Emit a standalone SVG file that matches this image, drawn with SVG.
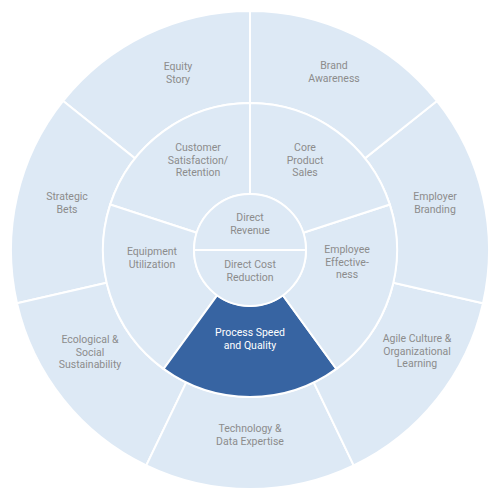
<svg xmlns="http://www.w3.org/2000/svg" width="500" height="500" viewBox="0 0 500 500">
<style>
.seg{fill:#dde9f5;stroke:#ffffff;stroke-width:2}
.hl{fill:#3764a2;stroke:#ffffff;stroke-width:2}
text{font-family:Roboto,"Liberation Sans",sans-serif;font-size:10.5px;fill:#8c8c8c;text-anchor:middle}
.w{fill:#ffffff}
</style>
<rect width="500" height="500" fill="#ffffff"/>
<g id="outer-ring">
<g id="equity-story"><path class="seg" d="M250 11A239 239 0 0 0 63.14 100.99L135.07 158.35A147 147 0 0 1 250 103Z"/><text x="178" y="70">Equity<tspan x="178" dy="12.5">Story</tspan></text></g>
<g id="strategic-bets"><path class="seg" d="M63.14 100.99A239 239 0 0 0 16.99 303.18L106.69 282.71A147 147 0 0 1 135.07 158.35Z"/><text x="67" y="200">Strategic<tspan x="67" dy="12.5">Bets</tspan></text></g>
<g id="ecological-social-sustainability"><path class="seg" d="M16.99 303.18A239 239 0 0 0 146.30 465.33L186.22 382.44A147 147 0 0 1 106.69 282.71Z"/><text x="90" y="343">Ecological &amp;<tspan x="90" dy="12.5">Social</tspan><tspan x="90" dy="12.5">Sustainability</tspan></text></g>
<g id="technology-data-expertise"><path class="seg" d="M146.30 465.33A239 239 0 0 0 353.70 465.33L313.78 382.44A147 147 0 0 1 186.22 382.44Z"/><text x="250" y="432">Technology &amp;<tspan x="250" dy="12.5">Data Expertise</tspan></text></g>
<g id="agile-culture"><path class="seg" d="M353.70 465.33A239 239 0 0 0 483.01 303.18L393.31 282.71A147 147 0 0 1 313.78 382.44Z"/><text x="417" y="342">Agile Culture &amp;<tspan x="417" dy="12.5">Organizational</tspan><tspan x="417" dy="12.5">Learning</tspan></text></g>
<g id="employer-branding"><path class="seg" d="M483.01 303.18A239 239 0 0 0 436.86 100.99L364.93 158.35A147 147 0 0 1 393.31 282.71Z"/><text x="435" y="200">Employer<tspan x="435" dy="12.5">Branding</tspan></text></g>
<g id="brand-awareness"><path class="seg" d="M436.86 100.99A239 239 0 0 0 250 11L250 103A147 147 0 0 1 364.93 158.35Z"/><text x="334" y="69">Brand<tspan x="334" dy="12.5">Awareness</tspan></text></g>
</g>
<g id="middle-ring">
<g id="customer-satisfaction"><path class="seg" d="M250 103A147 147 0 0 0 110.19 204.57L196.74 232.69A56 56 0 0 1 250 194Z"/><text x="198" y="151">Customer<tspan x="198" dy="12.5">Satisfaction/</tspan><tspan x="198" dy="12.5">Retention</tspan></text></g>
<g id="equipment-utilization"><path class="seg" d="M110.19 204.57A147 147 0 0 0 163.59 368.93L217.08 295.31A56 56 0 0 1 196.74 232.69Z"/><text x="152" y="255">Equipment<tspan x="152" dy="12.5">Utilization</tspan></text></g>
<g id="process-speed-quality"><path class="hl" d="M163.59 368.93A147 147 0 0 0 336.41 368.93L282.92 295.31A56 56 0 0 1 217.08 295.31Z"/><text class="w" x="250" y="336">Process Speed<tspan class="w" x="250" dy="12.5">and Quality</tspan></text></g>
<g id="employee-effectiveness"><path class="seg" d="M336.41 368.93A147 147 0 0 0 389.81 204.57L303.26 232.69A56 56 0 0 1 282.92 295.31Z"/><text x="347" y="253">Employee<tspan x="347" dy="12.5">Effective-</tspan><tspan x="347" dy="12.5">ness</tspan></text></g>
<g id="core-product-sales"><path class="seg" d="M389.81 204.57A147 147 0 0 0 250 103L250 194A56 56 0 0 1 303.26 232.69Z"/><text x="305" y="151">Core<tspan x="305" dy="12.5">Product</tspan><tspan x="305" dy="12.5">Sales</tspan></text></g>
</g>
<g id="inner-circle">
<g id="direct-revenue"><path class="seg" d="M194 250A56 56 0 0 1 306 250Z"/><text x="250" y="221">Direct<tspan x="250" dy="12.5">Revenue</tspan></text></g>
<g id="direct-cost-reduction"><path class="seg" d="M194 250A56 56 0 0 0 306 250Z"/><text x="250" y="268">Direct Cost<tspan x="250" dy="12.5">Reduction</tspan></text></g>
</g>
</svg>
